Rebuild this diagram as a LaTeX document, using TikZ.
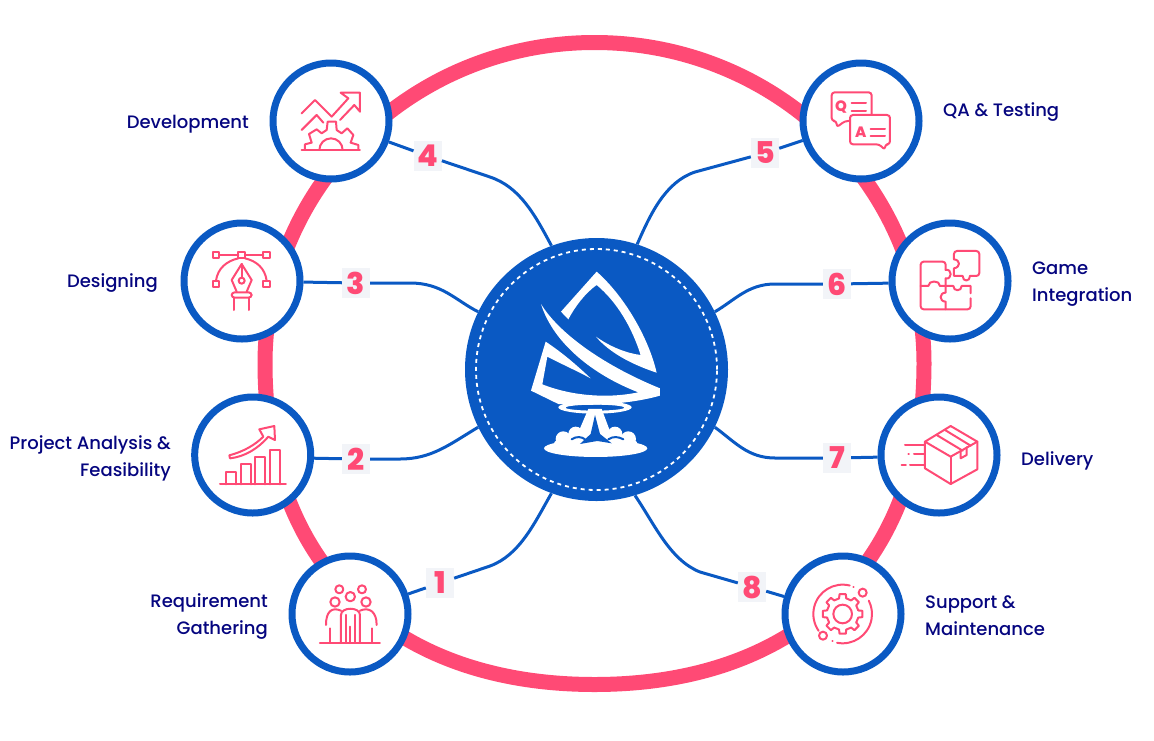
\documentclass[tikz,border=0pt]{standalone}
\usepackage{fontspec}
\setmainfont{Poppins Medium}
\newfontfamily\digitfont{Poppins ExtraBold}
\definecolor{ringpink}{HTML}{FF4A75}
\definecolor{stepblue}{HTML}{0A59C3}
\definecolor{navytext}{HTML}{05057F}
\definecolor{badgegray}{HTML}{F2F4F8}
\tikzset{
  stepnode/.style={circle, draw=stepblue, line width=7pt, fill=white, minimum size=116pt, inner sep=0pt, outer sep=3.5pt},
  badge/.style={rectangle, fill=badgegray, text=ringpink, minimum width=28pt, minimum height=30pt, inner sep=0pt, font=\fontsize{30}{30}\selectfont\digitfont},
  link/.style={draw=stepblue, line width=3pt},
  caption/.style={text=navytext, inner sep=0pt, font=\fontsize{18}{27}\selectfont},
  iconmark/.style={text=ringpink, inner sep=0pt, font=\fontsize{15}{15}\selectfont\digitfont},
  icon/.style 2 args={shift={(#1,-#2)}, x=0.3333pt, y=-0.3333pt, draw=ringpink, line width=2pt, line join=round, line cap=round},
}
\begin{document}
\begin{tikzpicture}[x=1pt, y=1pt]
        \useasboundingbox (0, 0) rectangle (1154, -740);

        % Draw ring
        \draw[ringpink, line width=15pt] (265, -363.5) .. controls (265, -186) and (412.5, -42.5) .. (594.5, -42.5)
          .. controls (776.5, -42.5) and (924, -186) .. (924, -363.5)
          .. controls (924, -562.5) and (798.5, -684.5) .. (594.5, -684.5)
          .. controls (390.5, -684.5) and (265, -562.5) .. (265, -363.5) -- cycle;

        % Draw vertices
        \node[circle, fill=stepblue, minimum size=263pt, inner sep=0pt] (hub) at (596.5, -369.5) {};
        \draw[white, line width=1.8pt, dash pattern=on 4pt off 4pt] (hub.center) circle [radius=120.5];
        \node[stepnode] (s1) at (350, -614) {};
        \node[stepnode] (s2) at (252.7, -455) {};
        \node[stepnode] (s3) at (242, -281) {};
        \node[stepnode] (s4) at (331, -121) {};
        \node[stepnode] (s5) at (861, -121) {};
        \node[stepnode] (s6) at (950, -281) {};
        \node[stepnode] (s7) at (939, -455) {};
        \node[stepnode] (s8) at (843, -614) {};

        \node[badge] (n1) at (440, -583) {1};
        \node[badge] (n2) at (356, -459) {2};
        \node[badge] (n3) at (356, -283) {3};
        \node[badge] (n4) at (427.7, -156) {4};
        \node[badge] (n5) at (765, -153) {5};
        \node[badge] (n6) at (837, -284) {6};
        \node[badge] (n7) at (837, -458) {7};
        \node[badge] (n8) at (752, -587) {8};

        \coordinate (b1) at (490, -566);
        \coordinate (b2) at (400, -459);
        \coordinate (b3) at (410, -283);
        \coordinate (b4) at (490, -177);
        \coordinate (b5) at (695, -172);
        \coordinate (b6) at (775, -284);
        \coordinate (b7) at (775, -458);
        \coordinate (b8) at (700, -572);

        % Draw edges
        \draw[link] (s1) -- (n1);
        \draw[link] (n1) -- (b1) .. controls (520, -555) and (535, -522) .. (hub.250);
        \draw[link] (s2.-3.7) -- (n2);
        \draw[link] (n2) -- (b2) .. controls (432, -459) and (450, -444) .. (hub.206);
        \draw[link] (s3.-1.9) -- (n3);
        \draw[link] (n3) -- (b3) .. controls (442, -283) and (455, -300) .. (hub.154.5);
        \draw[link] (s4) -- (n4);
        \draw[link] (n4) -- (b4) .. controls (520, -187) and (535, -215) .. (hub.110);
        \draw[link] (s5) -- (n5);
        \draw[link] (n5) -- (b5) .. controls (665, -182) and (650, -215) .. (hub.72.7);
        \draw[link] (s6.182.8) -- (n6);
        \draw[link] (n6) -- (b6) .. controls (748, -284) and (735, -300) .. (hub.26);
        \draw[link] (s7.182.8) -- (n7);
        \draw[link] (n7) -- (b7) .. controls (748, -458) and (735, -442) .. (hub.334);
        \draw[link] (s8) -- (n8);
        \draw[link] (n8) -- (b8) .. controls (670, -560) and (655, -525) .. (hub.287);

        % Draw logo
        \begin{scope}[icon={460}{230}, draw=none, fill=white]
          \fill (303, 245) -- (410, 125) .. controls (490, 195) and (565, 320) .. (590, 428)
            .. controls (520, 405) and (450, 370) .. (408, 320)
            .. controls (450, 350) and (500, 370) .. (542, 375)
            .. controls (515, 290) and (470, 215) .. (410, 165)
            .. controls (375, 190) and (345, 230) .. (325, 268) -- cycle;
          \fill (243, 222) .. controls (300, 315) and (440, 410) .. (600, 475) -- (600, 497)
            .. controls (520, 520) and (400, 530) .. (295, 522) -- (213, 482) -- (257, 335)
            .. controls (310, 370) and (355, 410) .. (392, 445)
            .. controls (345, 420) and (300, 400) .. (262, 380) -- (247, 463)
            .. controls (340, 500) and (450, 505) .. (535, 487)
            .. controls (400, 435) and (280, 340) .. (243, 222) -- cycle;
          \fill[even odd rule] (405, 532) ellipse [x radius=110, y radius=19] (405, 533) ellipse [x radius=88, y radius=9];
          \fill (385, 537) -- (425, 537) -- (460, 630) -- (345, 630) -- cycle;
          \fill (407, 655) ellipse [x radius=155, y radius=26];
          \fill (407, 640) ellipse [x radius=125, y radius=25];
          \foreach \cx/\cy/\cr in {310/627/23, 347/612/22, 465/612/22, 505/627/23}
            \fill (\cx, \cy) circle [radius=\cr];
          \fill[stepblue] (405, 555) -- (420, 612) -- (455, 640) -- (412, 633) -- (360, 642) -- (392, 612) -- cycle;
          \draw[stepblue, line width=2pt] (335, 628) .. controls (350, 618) and (365, 620) .. (375, 628);
          \draw[stepblue, line width=2pt] (445, 628) .. controls (460, 618) and (475, 620) .. (490, 628);
        \end{scope}

        % Draw icons
        \begin{scope}[icon={260}{50}]
          \draw (125, 300) -- (300, 300);
          \draw (125, 190) -- (165, 150) -- (215, 200) -- (265, 145) -- (242, 128) -- (300, 128) -- (300, 185) -- (283, 165) -- (240, 210);
          \draw (125, 240) -- (170, 195) -- (190, 218);
          \draw (135, 300) -- (135, 283) -- (155, 278) -- (147, 252) -- (170, 238) -- (185, 250) -- (200, 240) -- (203, 215) -- (228, 215) -- (230, 240) -- (245, 250) -- (262, 235) -- (280, 255) -- (272, 278) -- (295, 285) -- (295, 300);
          \draw (178, 300) arc [start angle=180, end angle=360, radius=35];
        \end{scope}
        \begin{scope}[icon={195}{235}]
          \foreach \px/\py in {63/60, 140/60, 215/60, 63/147, 215/147}
            \draw (\px-10, \py-10) rectangle (\px+10, \py+10);
          \draw (73, 60) -- (130, 60) (150, 60) -- (205, 60);
          \draw (63, 137) .. controls (68, 100) and (95, 78) .. (130, 70);
          \draw (215, 137) .. controls (210, 100) and (185, 78) .. (150, 70);
          \draw (155, 170) -- (170, 135) -- (140, 87) -- (110, 135) -- (125, 170);
          \draw (140, 87) -- (140, 128);
          \draw (140, 137) circle [radius=9];
          \draw[rounded corners=3pt] (110, 172) rectangle (170, 188);
          \draw (118, 188) -- (118, 225) (162, 188) -- (162, 225);
        \end{scope}
        \begin{scope}[icon={180}{380}]
          % chart
          \draw (120, 313) -- (318, 313);
          \draw (138, 313) -- (138, 275) -- (168, 275) -- (168, 313);
          \draw (183, 313) -- (183, 253) -- (212, 253) -- (212, 313);
          \draw (226, 313) -- (226, 232) -- (255, 232) -- (255, 313);
          \draw (270, 313) -- (270, 210) -- (300, 210) -- (300, 313);
          \draw (148, 226) .. controls (190, 215) and (225, 195) .. (250, 170) -- (238, 148) -- (283, 138) -- (285, 180) -- (265, 170) .. controls (235, 205) and (195, 230) .. (150, 235) -- cycle;
          % people
          \draw (420, 788) -- (600, 788);
          \foreach \px/\py/\pr in {511/650/14, 478/628/12, 546/628/12, 465/666/14, 558/666/14}
            \draw (\px, \py) circle [radius=\pr];
          \draw (483, 788) -- (483, 705) .. controls (483, 680) and (540, 680) .. (540, 705) -- (540, 788);
          \draw (498, 705) -- (498, 788) (525, 705) -- (525, 788) (511, 740) -- (511, 788);
          \draw (483, 692) .. controls (455, 680) and (438, 695) .. (438, 735);
          \draw (540, 692) .. controls (568, 680) and (590, 695) .. (590, 735);
          \draw (450, 745) -- (450, 788) (575, 745) -- (575, 788);
        \end{scope}
        \begin{scope}[icon={780}{50}]
          % questions
          \draw[rounded corners=3pt] (170, 213) -- (155, 213) -- (155, 127) -- (275, 127) -- (275, 213) -- (195, 213) -- (170, 232) -- cycle;
          \draw[rounded corners=3pt, fill=white] (210, 195) -- (330, 195) -- (330, 283) -- (315, 283) -- (315, 300) -- (298, 283) -- (210, 283) -- cycle;
          \node[iconmark] (qmark) at (183, 170) {Q};
          \node[iconmark] (amark) at (242, 247) {A};
          \draw (215, 160) -- (258, 160) (215, 182) -- (258, 182);
          \draw (272, 237) -- (315, 237) (272, 258) -- (315, 258);
          % puzzle
          \draw[rounded corners=3pt] (497, 660) -- (497, 635) -- (422, 635) -- (422, 778) -- (572, 778) -- (572, 745);
          \draw (497, 660) .. controls (517, 655) and (517, 690) .. (497, 685) -- (497, 708);
          \draw (422, 708) -- (445, 708) .. controls (445, 690) and (480, 690) .. (480, 708) -- (520, 708) .. controls (520, 725) and (545, 725) .. (545, 708) -- (572, 708) -- (572, 730);
          \draw (497, 708) -- (497, 728) .. controls (477, 728) and (477, 755) .. (497, 755) -- (497, 778);
          \draw[rounded corners=3pt] (522, 628) -- (522, 603) -- (598, 603) -- (598, 678) -- (570, 678);
          \draw (570, 678) .. controls (570, 696) and (548, 696) .. (548, 678) -- (522, 678) -- (522, 655) .. controls (542, 652) and (542, 630) .. (522, 628);
        \end{scope}
        \begin{scope}[icon={770}{380}]
          % parcel
          \draw (542, 138) -- (622, 185) -- (542, 230) -- (465, 185) -- cycle;
          \draw (465, 185) -- (465, 265) -- (542, 312) -- (622, 268) -- (622, 185);
          \draw (542, 230) -- (542, 312);
          \draw (500, 165) -- (578, 212) (525, 150) -- (602, 197);
          \draw (572, 212) -- (572, 235) -- (590, 225) -- (590, 202);
          \draw (405, 195) -- (465, 195) (432, 222) -- (465, 222) (415, 222) -- (417, 222);
          \draw (420, 255) -- (465, 255) (395, 255) -- (408, 255);
          % gear
          \draw (218, 702) circle [radius=28];
          \foreach \a in {0, 45, ..., 315}
            \draw[shift={(218, 702)}] (\a-13:48) -- (\a-9:60) -- (\a+9:60) -- (\a+13:48) -- (\a+32:48);
          \draw (218, 702) ++(-76:88) arc [start angle=-76, end angle=-215, radius=88];
          \draw (218, 702) ++(101:88) arc [start angle=101, end angle=-27, radius=88];
          \draw (278, 638) circle [radius=12] (159, 767) circle [radius=12];
          \draw (250, 622) -- (251, 622) (187, 782) -- (188, 782);
        \end{scope}

        % Draw labels
        \node[caption, anchor=east] (t1) at (268, -616.5) [align=right] {Requirement\\Gathering};
        \node[caption, anchor=east] (t2) at (171, -458) [align=right] {Project Analysis \&\\Feasibility};
        \node[caption, anchor=east] (t3) at (158, -283) {Designing};
        \node[caption, anchor=east] (t4) at (249, -124.5) {Development};
        \node[caption, anchor=west] (t5) at (943, -112) {QA \& Testing};
        \node[caption, anchor=west] (t6) at (1032, -284.5) [align=left] {Game\\Integration};
        \node[caption, anchor=west] (t7) at (1021, -461) {Delivery};
        \node[caption, anchor=west] (t8) at (925, -615.5) [align=left] {Support \&\\Maintenance};
      \end{tikzpicture}
\end{document}
